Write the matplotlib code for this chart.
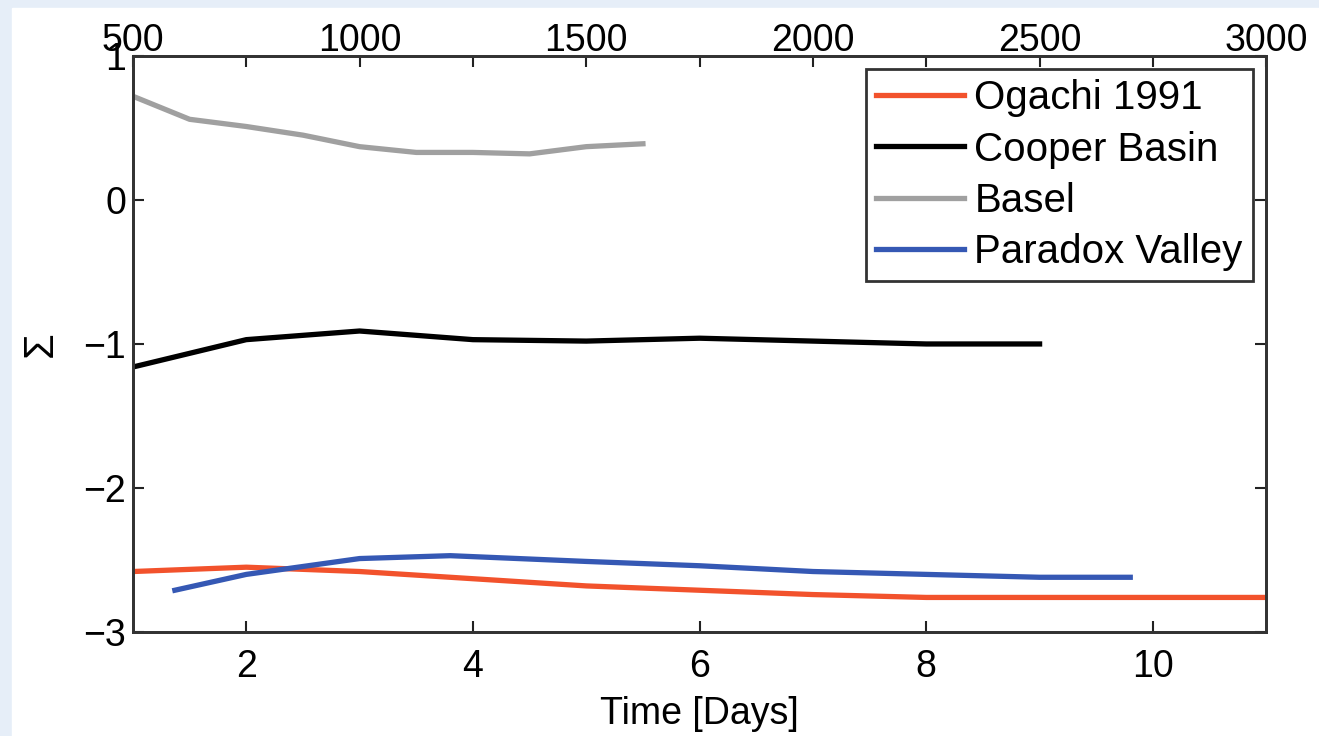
import matplotlib.pyplot as plt
import matplotlib.patches as mpatches
import numpy as np

plt.rcParams['font.family'] = ['Liberation Sans', 'DejaVu Sans']

# Données (temps en jours)
ogachi_t = [1, 2, 3, 4, 5, 6, 7, 8, 9, 10, 11]
ogachi_s = [-2.58, -2.55, -2.58, -2.63, -2.68, -2.71, -2.74, -2.76, -2.76, -2.76, -2.76]

cooper_t = [1, 2, 3, 4, 5, 6, 7, 8, 9]
cooper_s = [-1.16, -0.97, -0.91, -0.97, -0.98, -0.96, -0.98, -1.0, -1.0]

basel_t = [1, 1.5, 2, 2.5, 3, 3.5, 4, 4.5, 5, 5.5]
basel_s = [0.72, 0.56, 0.51, 0.45, 0.37, 0.33, 0.33, 0.32, 0.37, 0.39]

paradox_t = [1.37, 2, 3, 3.8, 5, 6, 7, 8, 9, 9.8]
paradox_s = [-2.71, -2.60, -2.49, -2.47, -2.51, -2.54, -2.58, -2.60, -2.62, -2.62]

bottom_ticks = [2, 4, 6, 8, 10]
top_ticks = [500, 1000, 1500, 2000, 2500, 3000]
y_ticks = [-3, -2, -1, 0, 1]

fig = plt.figure(figsize=(13.19, 7.36), dpi=100, facecolor='#e6eef8')
# fond blanc de la figure scannée
fond = mpatches.Rectangle((12 / 1319, 0), 1, 1 - 8 / 736, transform=fig.transFigure,
                          color='white', zorder=-10)
fig.add_artist(fond)

ax = fig.add_axes([0.1008, 0.1413, 0.8592, 0.7827])
ax.set_facecolor('white')

lw = 3.8
ax.plot(ogachi_t, ogachi_s, color='#f2522c', lw=lw, label='Ogachi 1991')
ax.plot(cooper_t, cooper_s, color='black', lw=lw, label='Cooper Basin')
ax.plot(basel_t, basel_s, color='#a0a0a0', lw=lw, label='Basel')
ax.plot(paradox_t, paradox_s, color='#3558b4', lw=lw, label='Paradox Valley')

fs = 27
ax.set_xlim(1, 11)
ax.set_ylim(-3, 1)
ax.set_xticks(bottom_ticks)
ax.set_yticks(y_ticks)
ax.set_yticklabels(['\u22123', '\u22122', '\u22121', '0', '1'])
ax.tick_params(axis='both', direction='in', length=8, width=1.5, labelsize=fs,
               right=True, colors='#222222', labelcolor='black')
ax.tick_params(axis='x', pad=12)
ax.tick_params(axis='y', pad=5)
for s in ax.spines.values():
    s.set_linewidth(2)
    s.set_color('#333333')

ax.set_xlabel('Time [Days]', fontsize=fs, labelpad=8)
ax.set_ylabel('\u03a3', fontsize=30, labelpad=16)

# axe du haut
ax2 = ax.twiny()
ax2.set_xlim(500, 3000)
ax2.set_xticks(top_ticks)
ax2.set_xticks(np.arange(750, 3000, 500), minor=True)
ax2.tick_params(axis='x', which='both', direction='in', length=8, width=1.5,
                labelsize=fs, pad=-2, colors='#222222', labelcolor='black')
for s in ax2.spines.values():
    s.set_linewidth(2)
    s.set_color('#333333')

leg = ax.legend(loc='upper right', bbox_to_anchor=(0.988, 0.977), fontsize=29,
                handlelength=2.2, handletextpad=0.25, borderpad=0.25,
                labelspacing=0.33, fancybox=False, framealpha=1, borderaxespad=0)
leg.get_frame().set_edgecolor('#333333')
leg.get_frame().set_linewidth(2)

fig.savefig('out.png', dpi=100, facecolor=fig.get_facecolor())
